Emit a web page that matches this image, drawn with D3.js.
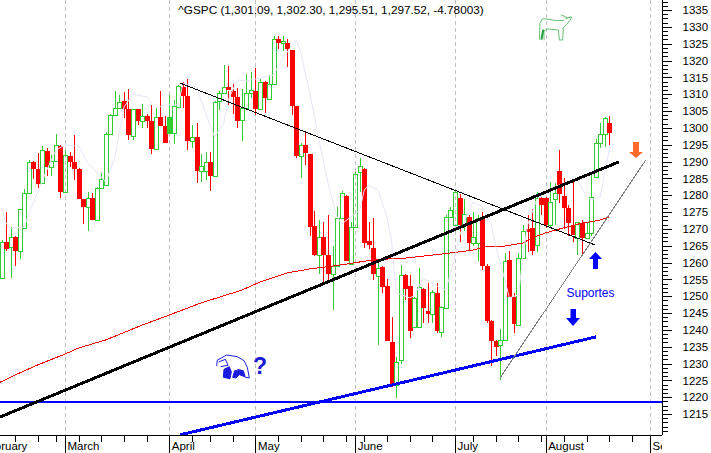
<!DOCTYPE html>
<html>
<head>
<meta charset="utf-8">
<script src="https://cdn.jsdelivr.net/npm/d3@7"></script>
<style>
html, body { margin: 0; padding: 0; background: #fff; }
svg { display: block; }
text { font-family: "Liberation Sans", Arial, sans-serif; fill: #000; }
</style>
</head>
<body>
<svg id="id_svg"></svg>
<script>
width = 711
height = 453
title = "^GSPC (1,301.09, 1,302.30, 1,295.51, 1,297.52, -4.78003)"

// trading days counted from 1 March, first candle is day -14
firstDay = -14
opens = [1255.4,1266.1,1264.6,1267.6,1263.4,1270.3,1280.6,1289.9,1287.8,1283.6,1293.1,1288.4,1290.2,1294.6,
  1281,1291.6,1289.9,1287.8,1278.9,1276.5,1279.2,1272.6,1282.1,1283,1298.2,1303.8,1305.9,1308,1305.6,1297.6,
  1305.6,1302,1303.5,1302,1293.7,1303.2,1300.5,1298.5,1298.5,1306.2,1312.1,1309.5,1296.1,1297.3,1287.2,1287.2,
  1289.9,1285.7,1308,1310.4,1312,1311,1309.2,1302.3,1305.9,1310.4,1311,1305.6,1313.6,1308.6,1313,1326.4,1325.2,
  1325.2,1323.1,1306.5,1291.6,1295,1292.2,1270.9,1262.2,1267.6,1262.2,1256.6,1259,1273.2,1279.7,1259.6,1270.6,
  1286.9,1287.8,1266.4,1264.3,1256,1258.7,1253,1236.4,1223.6,1231,1256.3,1253,1240.9,1240.9,1252.1,1245.6,1244.7,
  1250.9,1239.4,1246.5,1273.5,1271.1,1279.2,1271.1,1273.5,1265.8,1265.8,1273.5,1259,1242.6,1236.7,1235.5,1237,
  1260.8,1249.8,1241.4,1261.3,1270,1270.3,1265.2,1279.2,1279.2,1271.1,1278.9,1287.2,1279.8,1276.2,1271,1267.3,
  1271.7,1267.3,1268.8,1285.4,1295.5,1298.2,1301.4]
highs = [1266.7,1275,1270.6,1268,1276,1281.8,1290.3,1290.2,1292.5,1294.6,1294,1292,1298.2,1294.8,
  1293.4,1292.8,1297.9,1288,1279,1281,1280.6,1282.5,1286.6,1298.8,1304,1311,1309.8,1310.5,1311.5,1305.7,
  1305.7,1307,1304,1306.8,1305.9,1311,1303.5,1309.8,1308.3,1312.6,1313.6,1314.5,1300.8,1301.4,1292.2,1292.8,
  1292.8,1308,1311,1318.6,1318.4,1313,1311.8,1311.5,1316,1316.6,1317.8,1314.5,1314,1315.7,1327.3,1327.3,1327.3,
  1326.4,1323.2,1306.6,1295.4,1298.5,1292.3,1275.3,1272.6,1272,1274,1265,1276.5,1281.2,1280,1272,1286.8,
  1291,1288,1272,1273.2,1260.8,1259,1255,1243.8,1232,1259.3,1256.5,1256.3,1249.8,1258.4,1252.5,1253.9,1251.8,
  1253.9,1247,1274,1276.5,1281.3,1280.4,1278.9,1274,1275,1274,1275,1259.5,1243,1237,1240.3,1262.8,1263.4,1251,
  1262.8,1271,1274,1276,1281,1279.5,1279.5,1284,1283.6,1293.4,1285,1277,1284.5,1272,1272.5,1272,1286.5,1296.7,
  1301.4,1303.2,1303.4]
lows = [1255.4,1263.4,1255.4,1259,1261,1270,1280.6,1284.8,1282.1,1283.6,1285.7,1285.7,1290,1279.2,
  1281,1288.4,1284.5,1278.9,1271.4,1269.4,1272.6,1272.6,1282,1283,1298.2,1303.8,1305.9,1303,1296.4,1296.4,
  1300.7,1300,1300,1292.2,1293.7,1300.5,1295.5,1298.5,1295.2,1306,1305.9,1293.4,1294,1283.6,1284,1284.5,
  1281.2,1285.7,1305.3,1310,1306.8,1304,1300,1296.1,1305.9,1309,1303.8,1305.6,1304.4,1308.6,1313,1323.4,1322.8,
  1318,1303.8,1291,1285.1,1289,1267.9,1262,1256.6,1253.9,1253.9,1245.9,1259,1273.2,1260.5,1259.6,1270.6,
  1281,1264.4,1264,1254.8,1235.5,1251,1236.7,1223,1219.8,1230,1249,1237.6,1240.9,1240.9,1242,1242,1242,1239,
  1237.9,1246.5,1273.5,1271,1266,1269.5,1263.7,1264.9,1260.5,1257.8,1242,1229.3,1232.2,1225.1,1237,1249.8,1239,
  1241.4,1261,1263,1262.2,1263,1274,1270.3,1270.3,1271,1277.7,1270,1268,1266,1262.2,1262,1267.3,1268,1285.4,1294,
  1294.3,1295]
closes = [1266.1,1264,1267.6,1263.4,1275.9,1280.6,1289.9,1287.8,1283.3,1293.4,1288.4,1290.2,1295,1281,
  1292,1289.9,1287.8,1278.9,1276.5,1279.2,1272.6,1282.1,1284.8,1298.2,1303.8,1305.9,1307.7,1305.6,1297.9,1305.6,
  1302,1303.5,1302,1293.7,1303.2,1300.5,1295.5,1303.2,1306.5,1312.4,1309.5,1296.1,1297.3,1287.2,1288.7,1289.9,
  1285.7,1307.7,1310.4,1312.1,1311,1309.2,1302,1305.9,1310.4,1311.2,1305.6,1313.6,1308.9,1313,1326.4,1325.2,1325.8,
  1323.4,1306.5,1291.6,1295,1292.5,1270.6,1262.2,1267.6,1262.2,1256.6,1259,1273.2,1280.6,1260.5,1270.6,1286.3,
  1288.7,1265.8,1265.2,1256.6,1258.4,1252.7,1236.7,1223.6,1230.5,1256.3,1252.1,1239.7,1249.5,1252.7,1246.5,1244.7,
  1251.2,1239.7,1246.8,1273.5,1275.6,1281,1271.1,1274.4,1265.8,1267.6,1273.2,1259,1242.6,1236.7,1234.9,1237,1260.5,
  1249.8,1241.7,1261.3,1269.4,1269,1263.4,1279.2,1277.1,1271.1,1278,1280.6,1280.3,1276.2,1271.7,1267.9,1272,1267.3,
  1268.8,1279.5,1295.5,1298.2,1302.9,1298.5]
solidDays = [23]

// thin lavender line
lavenderDays = [-14,-13,-12,-9,-7,-4,-2,0,3,5,8,9,11,13,15,18,20,22,25,26,29,31,33,35,36,38,40,43,46,48,51,52,54,56,58,60,61,63,65,66,67,69,71,72,73,76,77,79,82,84,86,87,89,90,92,94,95,97,98,100,101,102,104,107,111,113,115,116,118,120]
lavenderValues = [1276.2,1271.7,1270,1270.6,1277.7,1287.5,1293.4,1294.9,1294.6,1289.6,1285.4,1283.9,1291.3,1306.2,1310,1309.2,1305.9,1306.8,1306.8,1313.3,1312.1,1304.4,1297.3,1301.4,1308.3,1314.2,1313.9,1314.8,1315.7,1320.7,1326.1,1322.2,1310.3,1296.4,1283.6,1273.5,1271.4,1273.5,1275.6,1281.5,1283,1281.5,1273.5,1266.7,1251,1249.5,1250.1,1255.4,1253,1251.8,1261.9,1267.9,1275.6,1278,1276.5,1271.1,1264.9,1254.8,1249.5,1250.4,1261.9,1271.1,1278.6,1282.1,1283.9,1284.5,1279.5,1278.6,1279.5,1293.4]

// long red average
averageDays = [-15,-10,-6,0,3,9,17,23,30,39,43,49,54,61,68,75,83,90,93,97,101,103,106,110,114,118,120]
averageValues = [1224,1227.2,1229.6,1232.8,1234.6,1237,1241.4,1244.4,1248,1251.8,1254.2,1256.9,1258.1,1259.3,1260.8,1261.3,1262.5,1263.7,1264.9,1264.9,1265.8,1267.3,1268.8,1270.3,1271.7,1272.6,1273.5]

// hand drawn trend lines: [day, price, day, price, colour, stroke width]
trendLines = [
  [25.36, 1313.3, 116.87, 1265.2, "#000", 1],
  [-14.33, 1214.1, 122.16, 1289.9, "#000", 3],
  [25.36, 1208.8, 117.09, 1237.9, "#0000ff", 3],
  [95.92, 1225.7, 128.1, 1290.5, "#808080", 1]
]
supportPrice = 1218.6

monthNames = ["February", "March", "April", "May", "June", "July", "August", "September"]
monthDays = [-19, 0, 23, 42, 64, 86, 106, 129]
weekDays = [-11,-6,-2,3,8,13,18,28,32,37,47,52,57,62,66,71,76,81,90,95,100,105,110,115,120,125]
priceTicks = d3.range(1215, 1340, 5)
minorTicks = d3.range(1210, 1340, 1.25)

chart = function() {
    const axisX = 662, axisY = 435;
    const x = d3.scaleLinear().domain([0, 129]).range([65, 650]);
    const y = d3.scaleLinear().domain([1335, 1215]).range([10, 414]);
    const green = "#32cd32", red = "#ff0000";

    const svg = d3.select("#id_svg").attr("width", width).attr("height", height)
        .attr("viewBox", [0, 0, width, height]);

    svg.append("clipPath").attr("id", "plot").append("rect")
        .attr("width", axisX).attr("height", axisY);
    const plot = svg.append("g").attr("clip-path", "url(#plot)");

    // month grid
    plot.append("g").selectAll("line")
        .data(monthDays.slice(1))
        .join("line")
        .attr("x1", d => Math.round(x(d)) + 0.5).attr("x2", d => Math.round(x(d)) + 0.5)
        .attr("y1", 0).attr("y2", axisY)
        .attr("stroke", "#c0c0c0").attr("stroke-dasharray", "4 3");

    const candles = opens.map((o, i) => ({
        day: firstDay + i, open: o, high: highs[i], low: lows[i], close: closes[i]
    }));
    const isUp = d => d.close >= d.open;

    // wicks stop at the body, hollow candles stay see-through
    plot.append("g").attr("shape-rendering", "crispEdges").selectAll("path")
        .data(candles)
        .join("path")
        .attr("fill", "none")
        .attr("stroke", d => isUp(d) ? green : red)
        .attr("d", d => {
            const cx = Math.round(x(d.day)) + 0.5;
            const top = y(Math.max(d.open, d.close)), bottom = y(Math.min(d.open, d.close));
            return `M${cx},${y(d.high)}V${top}M${cx},${bottom}V${y(d.low)}`;
        });

    plot.append("g").attr("shape-rendering", "crispEdges").selectAll("rect")
        .data(candles)
        .join("rect")
        .attr("x", d => Math.round(x(d.day)) - (isUp(d) ? 1.5 : 2))
        .attr("width", d => isUp(d) ? 4 : 5)
        .attr("y", d => Math.round(y(Math.max(d.open, d.close))) + (isUp(d) ? 0.5 : 0))
        .attr("height", d => Math.max(1, Math.round(y(Math.min(d.open, d.close)) - y(Math.max(d.open, d.close)))))
        .attr("fill", d => !isUp(d) ? red : solidDays.includes(d.day) ? green : "none")
        .attr("stroke", d => isUp(d) ? green : "none");

    const line = d3.line().x(d => x(d[0])).y(d => y(d[1]));

    plot.append("path")
        .attr("d", line(averageDays.map((d, i) => [d, averageValues[i]])))
        .attr("fill", "none").attr("stroke", red).attr("shape-rendering", "crispEdges");

    plot.append("path")
        .attr("d", line(lavenderDays.map((d, i) => [d, lavenderValues[i]])))
        .attr("fill", "none").attr("stroke", "#e6e6fa");

    plot.append("line")
        .attr("x1", 0).attr("x2", axisX)
        .attr("y1", y(supportPrice)).attr("y2", y(supportPrice))
        .attr("stroke", "#0000ff").attr("stroke-width", 2).attr("shape-rendering", "crispEdges");

    plot.append("g").attr("shape-rendering", "crispEdges").selectAll("line")
        .data(trendLines)
        .join("line")
        .attr("x1", d => x(d[0])).attr("y1", d => y(d[1]))
        .attr("x2", d => x(d[2])).attr("y2", d => y(d[3]))
        .attr("stroke", d => d[4]).attr("stroke-width", d => d[5]);

    // price axis
    const right = svg.append("g").attr("transform", `translate(${axisX + 0.5},0)`);
    right.append("g").call(d3.axisRight(y).tickValues(minorTicks).tickSize(5).tickFormat(""))
        .call(g => g.select(".domain").remove());
    right.append("g").call(d3.axisRight(y).tickValues(priceTicks).tickSize(9).tickPadding(11).tickFormat(d3.format("d")))
        .call(g => g.select(".domain").remove())
        .call(g => g.selectAll("text").attr("font-family", "Liberation Sans").attr("font-size", 11.5).attr("fill", "#000"));
    right.selectAll("line").attr("stroke", "#000").attr("shape-rendering", "crispEdges");
    svg.append("line").attr("x1", axisX + 0.5).attr("x2", axisX + 0.5).attr("y1", 0).attr("y2", axisY)
        .attr("stroke", "#000").attr("shape-rendering", "crispEdges");

    // time axis
    const bottom = svg.append("g").attr("transform", `translate(0,${axisY + 0.5})`);
    bottom.append("g").call(d3.axisBottom(x).tickValues(weekDays).tickSize(6).tickFormat(""))
        .call(g => g.select(".domain").remove());
    bottom.append("g").call(d3.axisBottom(x).tickValues(monthDays).tickSize(18).tickFormat(""))
        .call(g => g.select(".domain").remove());
    bottom.selectAll("line").attr("stroke", "#000").attr("shape-rendering", "crispEdges");
    svg.append("line").attr("x1", 0).attr("x2", axisX).attr("y1", axisY + 0.5).attr("y2", axisY + 0.5)
        .attr("stroke", "#000").attr("shape-rendering", "crispEdges");

    svg.append("clipPath").attr("id", "months").append("rect").attr("width", axisX).attr("height", height);
    svg.append("g").attr("clip-path", "url(#months)").selectAll("text")
        .data(monthNames)
        .join("text")
        .attr("x", (d, i) => x(monthDays[i]) + 2.5)
        .attr("y", 450)
        .attr("font-size", 11.5)
        .text(d => d);

    svg.append("text").attr("x", 331).attr("y", 14).attr("text-anchor", "middle")
        .attr("font-size", 11.75).text(title);

    svg.append("text").attr("x", 566.5).attr("y", 297).attr("font-size", 12)
        .style("fill", "#0000ff").text("Suportes");
    svg.append("text").attr("x", 253).attr("y", 374).attr("font-size", 23).attr("font-weight", "bold")
        .style("fill", "#1a1ad6").text("?");

    // arrows
    svg.append("path").attr("d", "M633,142H639V152H643L636,158L629,152H633Z").attr("fill", "#ff6a2a");
    svg.append("path").attr("d", "M595.5,252L602,259H598V269H593V259H589Z").attr("fill", "#0000ff");
    svg.append("path").attr("d", "M570.5,309H576V318H580L573,326L566,318H570.5Z").attr("fill", "#0000ff");

    // bull and bear stickers
    svg.append("g").attr("transform", "translate(520,5) scale(0.3333)")
        .attr("fill", "none").attr("stroke", "#3fb04f").attr("stroke-width", 2.4)
        .call(g => g.append("path").attr("d", "M155,36L142,38L124,30M132,46L110,47L85,43L68,41L60,55L58,104M72,106L72,78L82,72L115,75L118,105H128L130,68L141,58L150,46L155,36M136,42L148,36"))
        .call(g => g.append("path").attr("d", "M70,74L64,104").attr("stroke-width", 6).attr("stroke", "#1f9e35"));
    svg.append("g").attr("transform", "translate(200,340) scale(0.3333)")
        .attr("fill", "none").attr("stroke", "#1a1ae0").attr("stroke-width", 3)
        .call(g => g.append("path").attr("d", "M50,78L52,60L62,55L80,45L112,50L132,62L142,82L148,114L136,112L130,92L112,88M56,66L76,58L84,76L62,80"))
        .call(g => g.append("path").attr("fill", "#1a1ae0").attr("d", "M72,88L88,80L94,96L90,116L70,112ZM104,92L128,92L134,110L118,104L108,114L98,112Z"));
}
chart()
</script>
</body>
</html>
